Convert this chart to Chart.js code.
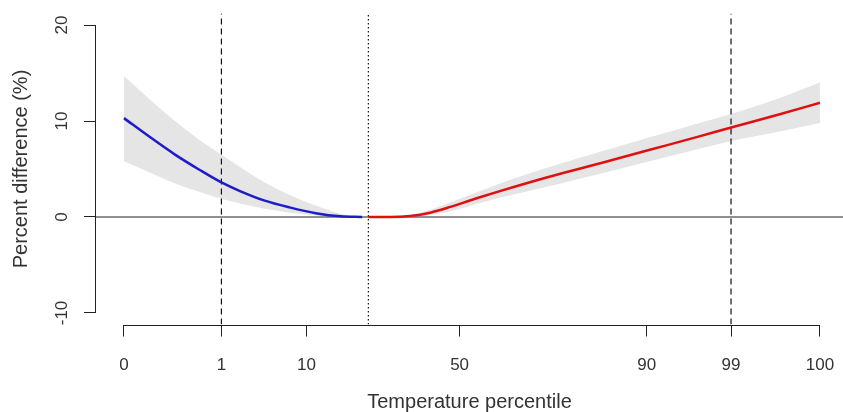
<!DOCTYPE html>
<html>
<head>
<meta charset="utf-8">
<script src="https://cdn.jsdelivr.net/npm/chart.js@4.4.1/dist/chart.umd.min.js"></script>
<style>
  body { margin: 0; background: #fff; }
  #grafica { display: block; }
</style>
</head>
<body>
<canvas id="grafica" width="843" height="412"></canvas>
<script>
const tempFrio = [-12.0, -10.3, -8.7, -7.1, -5.7, -4.5, -2.9, -1.3, 0.4, 2.0, 3.4];
const efectoFrio = [10.3, 8.3, 6.5, 4.9, 3.6, 2.7, 1.7, 1.0, 0.4, 0.07, 0];
const altoFrio = [14.7, 12.2, 10.0, 8.0, 6.5, 5.2, 3.6, 2.3, 1.2, 0.35, 0];
const bajoFrio = [5.8, 4.6, 3.5, 2.6, 1.9, 1.4, 0.85, 0.45, 0.15, 0.03, 0];

const tempCalor = [3.8, 5.2, 6.5, 7.8, 9.1, 10.7, 12.3, 15.5, 18.8, 22.0, 25.2, 27.2, 30.4, 33.0];
const efectoCalor = [0, 0, 0.1, 0.45, 1.05, 1.9, 2.7, 4.2, 5.6, 7.0, 8.4, 9.3, 10.7, 11.9];
const altoCalor = [0, 0.03, 0.2, 0.75, 1.5, 2.5, 3.5, 5.2, 6.8, 8.3, 9.8, 10.7, 12.4, 14.0];
const bajoCalor = [0, 0, 0.02, 0.2, 0.6, 1.3, 2.0, 3.2, 4.5, 5.8, 7.1, 7.9, 8.9, 9.8];

// eje x: posicion en temperatura, etiqueta en percentil
const tempTicks = [-12.0, -5.7, -0.2, 9.7, 21.8, 27.25, 33.0];
const percentiles = ["0", "1", "10", "50", "90", "99", "100"];
const yTicks = [-10, 0, 10, 20];

const tempP1 = -5.7;
const tempP99 = 27.25;
const tempMMT = 3.8;

const xMin = -13.81;
const xMax = 34.49;
const yMin = -11.2;
const yMax = 21.2;

const toXY = (xs, ys) => xs.map((x, i) => ({ x, y: ys[i] }));

const fuente = "'Liberation Sans', Arial, sans-serif";
const colorTexto = "#333333";
const gris = "#e5e5e5";

const banda = (datos, relleno) => ({
  data: datos,
  showLine: true,
  pointRadius: 0,
  borderWidth: 0,
  borderColor: "rgba(0,0,0,0)",
  backgroundColor: gris,
  fill: relleno,
  cubicInterpolationMode: "monotone",
  order: 5,
});

const linea = (datos, color, ancho, guiones, orden) => ({
  data: datos,
  showLine: true,
  pointRadius: 0,
  borderColor: color,
  borderWidth: ancho,
  borderDash: guiones,
  fill: false,
  order: orden,
});

const curva = (datos, color) => ({
  data: datos,
  showLine: true,
  pointRadius: 0,
  borderColor: color,
  borderWidth: 2.5,
  fill: false,
  cubicInterpolationMode: "monotone",
  order: 1,
});

// lineas de los ejes al estilo R (solo entre el primer y ultimo tick)
const ejesR = {
  id: "ejesR",
  afterDraw(chart) {
    const { ctx, chartArea, scales } = chart;
    ctx.save();
    ctx.strokeStyle = "#222222";
    ctx.lineWidth = 1;
    ctx.beginPath();
    const xl = Math.round(chartArea.left) - 0.5;
    ctx.moveTo(xl, scales.y.getPixelForValue(yTicks[yTicks.length - 1]));
    ctx.lineTo(xl, scales.y.getPixelForValue(yTicks[0]));
    const yb = Math.round(chartArea.bottom) + 0.5;
    ctx.moveTo(scales.x.getPixelForValue(tempTicks[0]), yb);
    ctx.lineTo(scales.x.getPixelForValue(tempTicks[tempTicks.length - 1]), yb);
    ctx.stroke();
    ctx.restore();
  },
};

const config = {
  type: "scatter",
  data: {
    datasets: [
      banda(toXY(tempFrio, altoFrio), "+1"),
      banda(toXY(tempFrio, bajoFrio), false),
      banda(toXY(tempCalor, altoCalor), "+1"),
      banda(toXY(tempCalor, bajoCalor), false),
      linea(toXY([xMin, xMax], [0, 0]), "#222222", 1.2, [], 3),
      linea(toXY([tempP1, tempP1], [yMin, yMax]), "#111111", 1.2, [6, 4], 2),
      linea(toXY([tempP99, tempP99], [yMin, yMax]), "#111111", 1.2, [6, 4], 2),
      linea(toXY([tempMMT, tempMMT], [yMin, yMax]), "#111111", 1.2, [1.5, 2.5], 2),
      curva(toXY(tempFrio, efectoFrio), "#1c1cc8"),
      curva(toXY(tempCalor, efectoCalor), "#e01010"),
    ],
  },
  options: {
    responsive: false,
    devicePixelRatio: 1,
    animation: false,
    layout: { padding: { top: 13.5, right: 0, bottom: 0, left: 0 } },
    plugins: {
      legend: { display: false },
      tooltip: { enabled: false },
    },
    scales: {
      x: {
        type: "linear",
        min: xMin,
        max: xMax,
        afterBuildTicks: (scale) => {
          scale.ticks = tempTicks.map((v) => ({ value: v }));
        },
        afterFit: (scale) => {
          scale.height = 87.5;
          scale.paddingLeft = 0;
          scale.paddingRight = 0;
        },
        border: { display: false },
        grid: {
          drawOnChartArea: false,
          drawTicks: true,
          tickLength: 12,
          color: "#222222",
        },
        ticks: {
          autoSkip: false,
          maxRotation: 0,
          padding: 19,
          color: colorTexto,
          font: { family: fuente, size: 17 },
          callback: (valor, i) => percentiles[i],
        },
        title: {
          display: true,
          text: "Temperature percentile",
          color: colorTexto,
          font: { family: fuente, size: 20, lineHeight: 1 },
          padding: { top: 0, bottom: 0 },
        },
      },
      y: {
        type: "linear",
        min: yMin,
        max: yMax,
        afterBuildTicks: (scale) => {
          scale.ticks = yTicks.map((v) => ({ value: v }));
        },
        afterFit: (scale) => {
          scale.width = 96;
          scale.paddingTop = 0;
          scale.paddingBottom = 0;
        },
        border: { display: false },
        grid: {
          drawOnChartArea: false,
          drawTicks: true,
          tickLength: 12,
          color: "#222222",
        },
        ticks: {
          minRotation: 90,
          maxRotation: 90,
          crossAlign: "center",
          padding: 9,
          color: colorTexto,
          font: { family: fuente, size: 17 },
        },
        title: {
          display: true,
          text: "Percent difference (%)",
          color: colorTexto,
          font: { family: fuente, size: 20, lineHeight: 1 },
          padding: { top: 11, bottom: 0 },
        },
      },
    },
  },
  plugins: [ejesR],
};

const chartDOM = document.getElementById("grafica");
const myGraph = new Chart(chartDOM, config);
</script>
</body>
</html>
